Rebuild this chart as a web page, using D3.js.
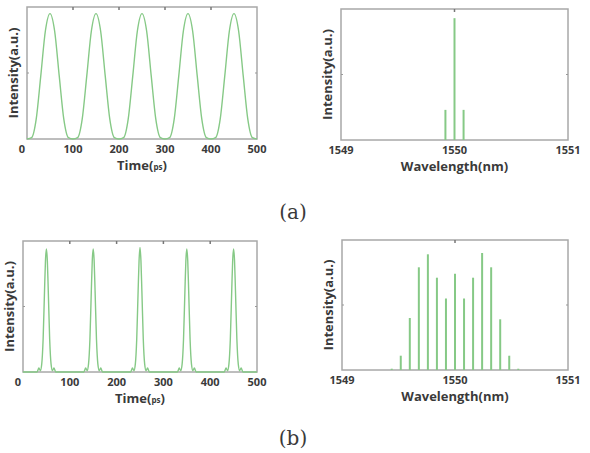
<!DOCTYPE html>
<html>
  <head>
    <meta charset="utf-8">
    <script src="https://d3js.org/d3.v7.min.js"></script>
    <style>
      body { margin: 0; background: #fff; }
      svg text { fill: #3a3a3a; }
      .tick-label { font-family: "Open Sans", sans-serif; font-weight: bold; font-size: 11px; }
      .axis-title { font-family: "Open Sans", sans-serif; font-weight: bold; font-size: 13px; }
      .caption { font-family: "DejaVu Serif", "Liberation Serif", serif; font-size: 20px; }
    </style>
  </head>
<body>
  <script type="text/javascript">

    // (a) wide pulses: time samples (ps) and intensity
    var timeA = [0, 10, 20, 30, 40, 50, 60, 70, 80, 90,
                 100, 110, 120, 130, 140, 150, 160, 170, 180, 190,
                 200, 210, 220, 230, 240, 250, 260, 270, 280, 290,
                 300, 310, 320, 330, 340, 350, 360, 370, 380, 390,
                 400, 410, 420, 430, 440, 450, 460, 470, 480, 490, 500];
    var intensityA = [0, 0.01, 0.15, 0.48, 0.82, 0.95, 0.82, 0.48, 0.15, 0.01,
                      0, 0.01, 0.15, 0.48, 0.82, 0.95, 0.82, 0.48, 0.15, 0.01,
                      0, 0.01, 0.15, 0.48, 0.82, 0.95, 0.82, 0.48, 0.15, 0.01,
                      0, 0.01, 0.15, 0.48, 0.82, 0.95, 0.82, 0.48, 0.15, 0.01,
                      0, 0.01, 0.15, 0.48, 0.82, 0.95, 0.82, 0.48, 0.15, 0.01, 0];

    // (b) narrow pulses
    var timeB = [0,
      30, 34, 37, 40, 43, 46, 48, 50, 52, 54, 57, 60, 63, 66, 70,
      130, 134, 137, 140, 143, 146, 148, 150, 152, 154, 157, 160, 163, 166, 170,
      230, 234, 237, 240, 243, 246, 248, 250, 252, 254, 257, 260, 263, 266, 270,
      330, 334, 337, 340, 343, 346, 348, 350, 352, 354, 357, 360, 363, 366, 370,
      430, 434, 437, 440, 443, 446, 448, 450, 452, 454, 457, 460, 463, 466, 470,
      500];
    var intensityB = [0,
      0, 0.03, 0.01, 0.06, 0.25, 0.62, 0.85, 0.94, 0.85, 0.62, 0.25, 0.06, 0.01, 0.03, 0,
      0, 0.03, 0.01, 0.06, 0.25, 0.62, 0.85, 0.94, 0.85, 0.62, 0.25, 0.06, 0.01, 0.03, 0,
      0, 0.03, 0.01, 0.06, 0.25, 0.62, 0.85, 0.95, 0.85, 0.62, 0.25, 0.06, 0.01, 0.03, 0,
      0, 0.03, 0.01, 0.06, 0.25, 0.62, 0.85, 0.94, 0.85, 0.62, 0.25, 0.06, 0.01, 0.03, 0,
      0, 0.03, 0.01, 0.06, 0.25, 0.62, 0.85, 0.94, 0.85, 0.62, 0.25, 0.06, 0.01, 0.03, 0,
      0];

    // spectra (nm)
    var waveA = [1549.92, 1550.00, 1550.08];
    var powerA = [0.23, 0.93, 0.23];
    var waveB = [1549.44, 1549.52, 1549.60, 1549.68, 1549.76, 1549.84, 1549.92, 1550.00,
                 1550.08, 1550.16, 1550.24, 1550.32, 1550.40, 1550.48, 1550.56];
    var powerB = [0.01, 0.11, 0.40, 0.79, 0.89, 0.71, 0.55, 0.74,
                  0.55, 0.71, 0.90, 0.79, 0.39, 0.11, 0.01];

    var timeTicks = [0, 100, 200, 300, 400, 500];
    var waveTicks = [1549, 1550, 1551];
    var captions = ["(a)", "(b)"];

    var green = "#86c986";
    var frameColor = "#a8a8a8";

    var svg = d3.select("body").append("svg")
        .attr("width", 590)
        .attr("height", 453);

    // draws the frame, ticks and labels of one panel, returns scales
    function panel(box, xDomain, xTicks, xTitle, small) {
      var x = d3.scaleLinear().domain(xDomain).range([box.x0, box.x1]);
      var y = d3.scaleLinear().domain([0, 1]).range([box.y1, box.y0]);
      var g = svg.append("g");

      g.append("rect")
        .attr("x", box.x0).attr("y", box.y0)
        .attr("width", box.x1 - box.x0).attr("height", box.y1 - box.y0)
        .attr("fill", "none").attr("stroke", frameColor).attr("stroke-width", 1.5);

      // inward ticks on all four sides (matlab box style)
      var mid = xTicks.slice(1, -1);
      g.selectAll(".tt").data(mid).enter().append("line")
        .attr("x1", x).attr("x2", x)
        .attr("y1", box.y0).attr("y2", box.y0 + 3)
        .attr("stroke", "#777").attr("stroke-width", 1.5);
      g.selectAll(".yt").data([box.x0, box.x1]).enter().append("line")
        .attr("x1", function(d) { return d; })
        .attr("x2", function(d, i) { return i ? d - 2 : d + 2; })
        .attr("y1", y(0.5)).attr("y2", y(0.5))
        .attr("stroke", "#999").attr("stroke-width", 1);

      // the "0" label sits a little left of its tick in the original
      g.selectAll(".tl").data(xTicks).enter().append("text")
        .attr("class", "tick-label")
        .attr("x", function(d) { return d === 0 ? x(d) - 5 : x(d); })
        .attr("y", box.y1 + 14)
        .attr("text-anchor", "middle")
        .text(function(d) { return d; });

      var t = g.append("text")
        .attr("class", "axis-title")
        .attr("x", (box.x0 + box.x1) / 2)
        .attr("y", box.y1 + 31)
        .attr("text-anchor", "middle")
        .text(xTitle);
      if (small) {
        t.append("tspan").style("font-size", "8px").text(small);
        t.append("tspan").text(")");
      }

      g.append("text")
        .attr("class", "axis-title")
        .attr("transform", "translate(" + (box.x0 - 9) + "," + ((box.y0 + box.y1) / 2) + ") rotate(-90)")
        .attr("text-anchor", "middle")
        .text("Intensity(a.u.)");

      return {x: x, y: y, g: g};
    }

    function trace(p, xs, ys) {
      var pts = xs.map(function(v, i) { return [v, ys[i]]; });
      p.g.append("path")
        .datum(pts)
        .attr("fill", "none")
        .attr("stroke", green)
        .attr("stroke-width", 1.4)
        .attr("d", d3.line()
          .x(function(d) { return p.x(d[0]); })
          .y(function(d) { return p.y(d[1]); })
          .curve(d3.curveMonotoneX));
    }

    function lines(p, xs, ys) {
      p.g.selectAll(".sl").data(xs).enter().append("line")
        .attr("x1", function(d) { return p.x(d); })
        .attr("x2", function(d) { return p.x(d); })
        .attr("y1", p.y(0))
        .attr("y2", function(d, i) { return p.y(ys[i]); })
        .attr("stroke", green)
        .attr("stroke-width", 2);
    }

    var a1 = panel({x0: 27, x1: 257, y0: 7, y1: 139}, [0, 500], timeTicks, "Time(", "ps");
    trace(a1, timeA, intensityA);
    var a2 = panel({x0: 341, x1: 568, y0: 9, y1: 140}, [1549, 1551], waveTicks, "Wavelength(nm)");
    lines(a2, waveA, powerA);
    var b1 = panel({x0: 23, x1: 257, y0: 241, y1: 372}, [0, 500], timeTicks, "Time(", "ps");
    trace(b1, timeB, intensityB);
    var b2 = panel({x0: 342, x1: 568, y0: 240, y1: 370}, [1549, 1551], waveTicks, "Wavelength(nm)");
    lines(b2, waveB, powerB);

    // captions
    svg.selectAll(".caption").data(captions).enter().append("text")
      .attr("class", "caption")
      .attr("x", 293)
      .attr("y", function(d, i) { return i ? 445 : 219; })
      .attr("text-anchor", "middle")
      .text(function(d) { return d; });

  </script>
</body>
</html>
